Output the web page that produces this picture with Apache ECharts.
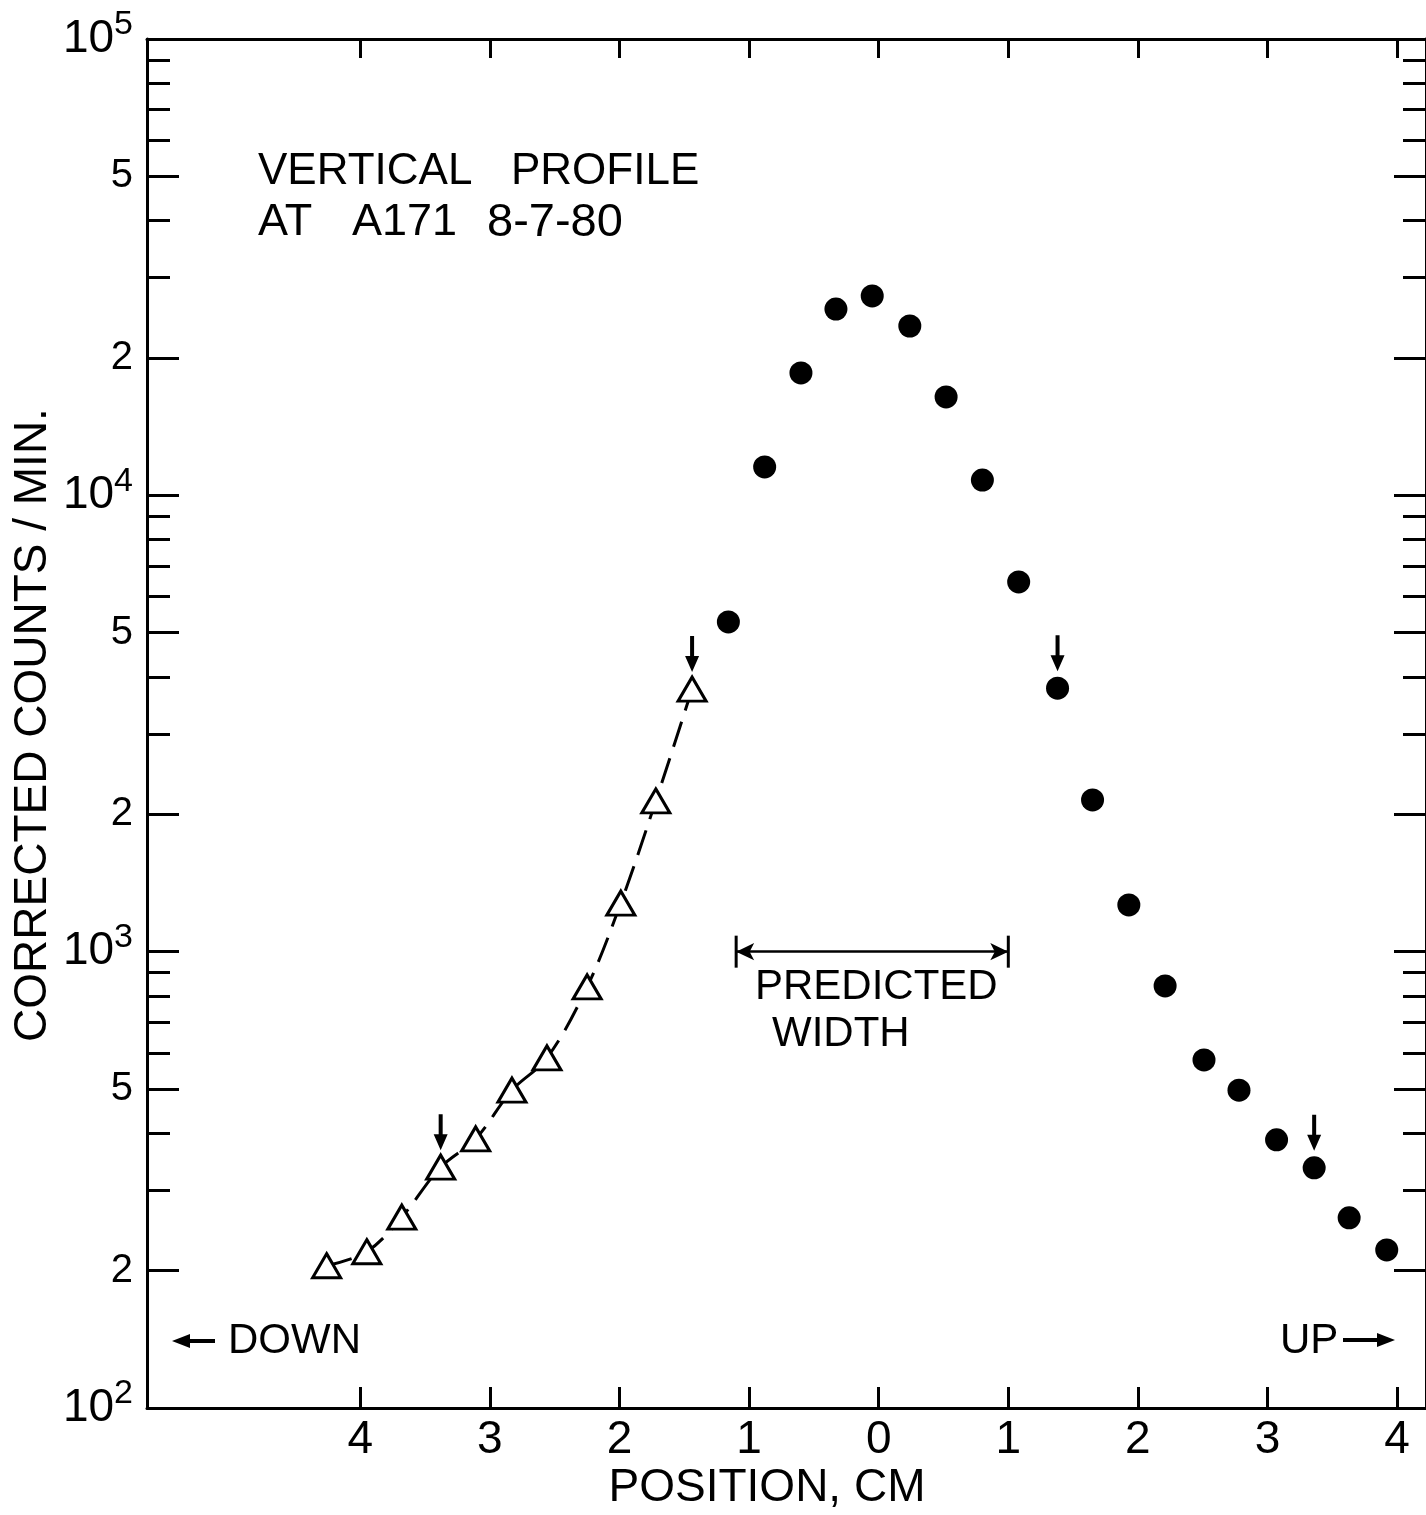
<!DOCTYPE html>
<html>
<head>
<meta charset="utf-8">
<title>Vertical profile at A171</title>
<script src="https://cdn.jsdelivr.net/npm/echarts@6/dist/echarts.min.js"></script>
<style>
html, body { margin: 0; padding: 0; background: #fff; }
#chart { width: 1426px; height: 1515px; }
</style>
</head>
<body>
<div id="chart"></div>
<script>
// position in cm (down side negative), corrected counts / min
var upPos = [-1.16, -0.88, -0.6, -0.33, -0.05, 0.24, 0.52, 0.8, 1.08, 1.38, 1.65, 1.93, 2.21, 2.51, 2.78, 3.07, 3.36, 3.63, 3.92]
var upCounts = [5280, 11540, 18540, 25600, 27350, 23500, 16430, 10800, 6460, 3780, 2150, 1266, 841, 579, 497, 387, 336, 261, 222]
var downPos = [-4.26, -3.95, -3.68, -3.38, -3.11, -2.83, -2.56, -2.25, -1.99, -1.72, -1.44]
var downCounts = [205, 220, 262, 337, 389, 497, 585, 837, 1278, 2139, 3763]
// points marked with a small arrow
var arrowPos = [-3.38, -1.44, 1.38, 3.36]
var arrowCounts = [337, 3763, 3780, 336]
// predicted width bracket
var predictedWidth = [-1.1, 1.0]
var predictedLevel = 1000

var xTicks = [-4, -3, -2, -1, 0, 1, 2, 3, 4]
var yLabelTicks = [100, 200, 500, 1000, 2000, 5000, 10000, 20000, 50000, 100000]
var yMinorTicks = [300, 400, 600, 700, 800, 900, 3000, 4000, 6000, 7000, 8000, 9000, 30000, 40000, 60000, 70000, 80000, 90000]

var FONT = 'Liberation Sans'
var BLACK = '#000'

function pairs (xs, ys) {
  return xs.map(function (x, i) { return [x, ys[i]] })
}

function yLabel (v) {
  var e = Math.log10(v)
  if (Math.abs(e - Math.round(e)) < 1e-6) {
    return '{b|10}{s|' + Math.round(e) + '}'
  }
  return '{n|' + Math.round(v / Math.pow(10, Math.floor(e))) + '}'
}

function yAxisDef (pos, ticks, len, labels) {
  return {
    type: 'log',
    logBase: 10,
    min: 100,
    max: 100000,
    position: pos,
    offset: 0,
    axisLine: { show: labels || pos === 'right', onZero: false, lineStyle: { color: BLACK, width: 3 } },
    axisTick: { show: true, inside: true, length: len, customValues: ticks, lineStyle: { color: BLACK, width: 3 } },
    axisLabel: {
      show: labels,
      customValues: ticks,
      margin: 14,
      formatter: yLabel,
      rich: {
        b: { fontFamily: FONT, fontSize: 46, lineHeight: 62, color: BLACK },
        s: { fontFamily: FONT, fontSize: 34, verticalAlign: 'top', color: BLACK },
        n: { fontFamily: FONT, fontSize: 40, color: BLACK }
      }
    },
    splitLine: { show: false },
    minorTick: { show: false }
  }
}

function xAxisDef (pos, len, labels) {
  return {
    type: 'value',
    min: -5.646,
    max: 4.223,
    position: pos,
    axisLine: { show: true, onZero: false, lineStyle: { color: BLACK, width: 3 } },
    axisTick: { show: true, inside: true, length: len, customValues: xTicks, lineStyle: { color: BLACK, width: 3 } },
    axisLabel: {
      show: labels,
      customValues: xTicks,
      margin: 9,
      fontFamily: FONT,
      fontSize: 46,
      color: BLACK,
      formatter: function (v) { return String(Math.abs(v)) }
    },
    splitLine: { show: false }
  }
}

function txt (text, x, y, size, align, rot) {
  return {
    type: 'text',
    x: x,
    y: y,
    rotation: rot || 0,
    style: {
      text: text,
      fontFamily: FONT,
      fontSize: size,
      fill: BLACK,
      textAlign: align || 'left',
      textVerticalAlign: 'middle'
    }
  }
}

// hand-drawn style arrow next to DOWN / UP
function pointer (x0, x1, y) {
  var dir = x1 > x0 ? 1 : -1
  return {
    type: 'group',
    children: [
      { type: 'line', shape: { x1: x0, y1: y, x2: x1 - dir * 12, y2: y }, style: { stroke: BLACK, lineWidth: 4 } },
      { type: 'polygon', shape: { points: [[x1, y], [x1 - dir * 18, y - 7], [x1 - dir * 18, y + 7]] }, style: { fill: BLACK } }
    ]
  }
}

var chart = echarts.init(document.getElementById('chart'), null, { renderer: 'canvas' })

var option = {
  animation: false,
  backgroundColor: '#fff',
  grid: { left: 147, top: 39, width: 1283, height: 1369, containLabel: false },
  xAxis: [xAxisDef('bottom', 21, true), xAxisDef('top', 19, false)],
  yAxis: [
    yAxisDef('left', yLabelTicks, 32, true),
    yAxisDef('left', yMinorTicks, 23, false),
    yAxisDef('right', yLabelTicks, 32, false),
    yAxisDef('right', yMinorTicks, 23, false)
  ],
  series: [
    {
      name: 'down',
      type: 'line',
      data: pairs(downPos, downCounts),
      smooth: 0.35,
      symbol: 'triangle',
      symbolSize: [28, 24],
      itemStyle: { color: '#fff', borderColor: BLACK, borderWidth: 3, opacity: 1 },
      lineStyle: { color: BLACK, width: 3, type: [26, 12] },
      z: 3
    },
    {
      name: 'up',
      type: 'scatter',
      data: pairs(upPos, upCounts),
      symbol: 'circle',
      symbolSize: 23,
      itemStyle: { color: BLACK, opacity: 1 },
      z: 3
    },
    {
      name: 'arrows',
      type: 'scatter',
      data: pairs(arrowPos, arrowCounts),
      symbol: 'path://M5,0 L9,0 L9,20 L14,20 L7,36 L0,20 L5,20 Z',
      symbolSize: [14, 36],
      symbolOffset: [0, -35],
      itemStyle: { color: BLACK, opacity: 1 },
      z: 4
    },
    {
      name: 'predicted',
      type: 'scatter',
      data: pairs(predictedWidth, [predictedLevel, predictedLevel]),
      symbol: 'rect',
      symbolSize: [3, 32],
      itemStyle: { color: BLACK, opacity: 1 },
      markLine: {
        silent: true,
        symbol: ['arrow', 'arrow'],
        symbolSize: [13, 18],
        label: { show: false },
        lineStyle: { color: BLACK, width: 2.5, type: 'solid', opacity: 1 },
        data: [[
          { coord: [predictedWidth[0], predictedLevel] },
          { coord: [predictedWidth[1], predictedLevel] }
        ]]
      }
    }
  ],
  graphic: [
    txt('VERTICAL', 258, 172, 44),
    txt('PROFILE', 511, 172, 44),
    txt('AT', 258, 223, 45),
    txt('A171', 352, 223, 45),
    txt('8-7-80', 487, 223, 47),
    txt('PREDICTED', 755, 987, 42),
    txt('WIDTH', 772, 1034, 42),
    pointer(215, 172, 1341),
    txt('DOWN', 228, 1341, 42),
    txt('UP', 1280, 1341, 42),
    pointer(1343, 1395, 1340),
    txt('POSITION, CM', 767, 1488, 46, 'center'),
    txt('CORRECTED COUNTS / MIN.', 33, 725, 46, 'center', Math.PI / 2)
  ]
}

chart.setOption(option)
</script>
</body>
</html>
